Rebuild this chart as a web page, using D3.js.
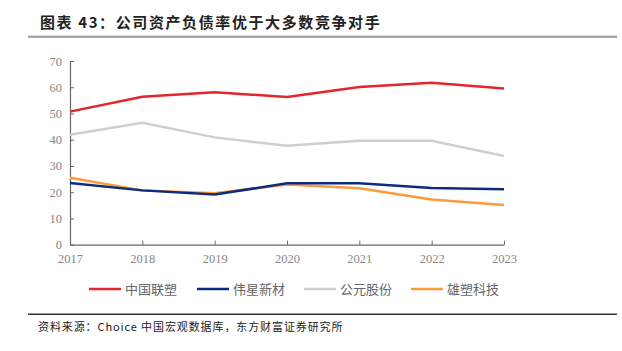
<!DOCTYPE html>
<html lang="zh">
<head>
<meta charset="UTF-8">
<title>公司资产负债率</title>
<script src="https://cdn.jsdelivr.net/npm/d3@7"></script>
<style>
  body { margin: 0; background: #fff; }
</style>
</head>
<body>
<script>
const years = ["2017", "2018", "2019", "2020", "2021", "2022", "2023"];
const zglsVals = [50.7, 56.4, 58.1, 56.3, 60.1, 61.7, 59.5];   // 中国联塑
const wxxcVals = [23.5, 20.7, 19.1, 23.4, 23.4, 21.6, 21.1];   // 伟星新材
const gygfVals = [41.9, 46.5, 40.9, 37.7, 39.6, 39.6, 33.8];   // 公元股份
const xskjVals = [25.5, 20.7, 19.6, 22.9, 21.5, 17.2, 15.1];   // 雄塑科技
const seriesNames = ["中国联塑", "伟星新材", "公元股份", "雄塑科技"];
const seriesColors = ["#e3262b", "#0d2b80", "#cfcfcf", "#fd9a3a"];
const yTicks = [0, 10, 20, 30, 40, 50, 60, 70];

const series = [zglsVals, wxxcVals, gygfVals, xskjVals].map((v, i) => ({
  name: seriesNames[i], color: seriesColors[i], values: v
}));

const w = 622, h = 351;
const svg = d3.select("body").append("svg").attr("width", w).attr("height", h);

// title
svg.append("text")
  .attr("x", 40).attr("y", 28)
  .attr("font-family", "Noto Sans CJK SC")
  .attr("font-weight", "bold")
  .attr("font-size", 15)
  .attr("letter-spacing", 1.6)
  .attr("fill", "#222")
  .text("图表 43：公司资产负债率优于大多数竞争对手");

svg.append("line").attr("x1", 28).attr("x2", 617).attr("y1", 36.7).attr("y2", 36.7)
  .attr("stroke", "#999").attr("stroke-width", 2);

const x = d3.scalePoint().domain(years).range([70, 504]);
const y = d3.scaleLinear().domain([0, 70]).range([244.7, 61]);

const xAxis = d3.axisBottom(x).tickSize(4).tickSizeOuter(0);
const yAxis = d3.axisLeft(y).tickValues(yTicks).tickSize(-4).tickSizeOuter(0);

const gx = svg.append("g").attr("transform", `translate(0,${y(0)})`).call(xAxis);
gx.selectAll(".tick line").attr("y2", -4);
const gy = svg.append("g").attr("transform", `translate(${x("2017")},0)`).call(yAxis);

[gx, gy].forEach(g => {
  g.select(".domain").attr("stroke", "#666").attr("stroke-width", 1.2);
  g.selectAll(".tick line").attr("stroke", "#666");
  g.selectAll("text")
    .attr("font-family", "Liberation Serif")
    .attr("font-size", 12.5)
    .attr("fill", "#888");
});
gx.selectAll("text").attr("dy", "0.71em").attr("y", 9);
gy.selectAll("text").attr("x", -8);

const line = d3.line().x((d, i) => x(years[i])).y(d => y(d));

svg.append("g").selectAll("path")
  .data([series[2], series[0], series[3], series[1]])
  .enter().append("path")
  .attr("d", d => line(d.values))
  .attr("fill", "none")
  .attr("stroke", d => d.color)
  .attr("stroke-width", 2.5);

// legend
const legX = [89, 197, 304, 411];
const leg = svg.append("g").selectAll("g").data(series).enter().append("g")
  .attr("transform", (d, i) => `translate(${legX[i]},289)`);
leg.append("line").attr("x1", 0).attr("x2", 32)
  .attr("stroke", d => d.color).attr("stroke-width", 2.5);
leg.append("text").attr("x", 36).attr("y", 5)
  .attr("font-family", "Noto Sans CJK SC")
  .attr("font-size", 13)
  .attr("fill", "#666")
  .text(d => d.name);

svg.append("line").attr("x1", 28).attr("x2", 617).attr("y1", 314.3).attr("y2", 314.3)
  .attr("stroke", "#333").attr("stroke-width", 1.5);

svg.append("text")
  .attr("x", 38).attr("y", 331)
  .attr("font-family", "Noto Sans CJK SC")
  .attr("font-size", 11)
  .attr("letter-spacing", 0.9)
  .attr("fill", "#222")
  .text("资料来源：Choice 中国宏观数据库，东方财富证券研究所");
</script>
</body>
</html>
